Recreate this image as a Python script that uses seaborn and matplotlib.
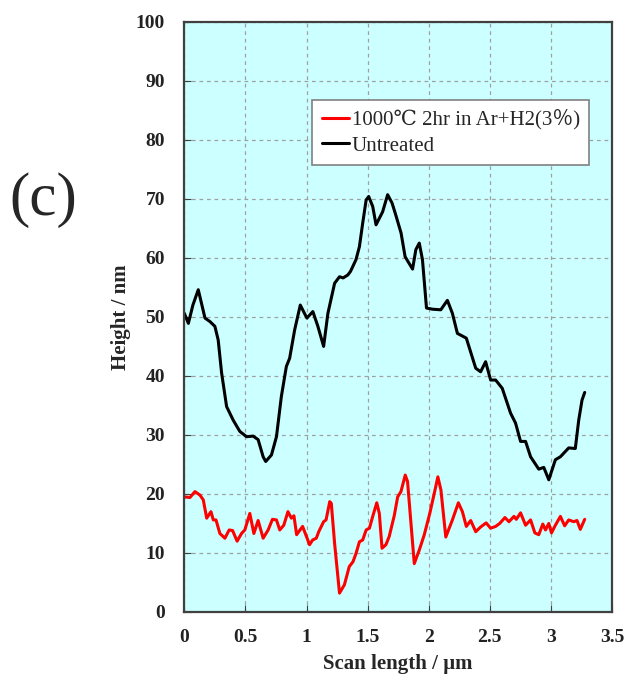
import numpy as np
import pandas as pd
import matplotlib
matplotlib.use('Agg')
import matplotlib.pyplot as plt
import seaborn as sns

# -------------------------------------------------------------
# Data (scan length in um, height in nm)
untreated_x = [0.0, 0.033, 0.07, 0.114, 0.169, 0.21, 0.25, 0.277, 0.305, 0.346,
               0.40, 0.454, 0.509, 0.563, 0.604, 0.645, 0.666, 0.713, 0.754, 0.794,
               0.835, 0.862, 0.903, 0.949, 1.003, 1.052, 1.093, 1.14, 1.175, 1.23,
               1.27, 1.30, 1.338, 1.36, 1.405, 1.433, 1.46, 1.488, 1.509, 1.542,
               1.569, 1.596, 1.623, 1.664, 1.70, 1.73, 1.774, 1.807, 1.83, 1.868,
               1.895, 1.923, 1.949, 1.982, 2.031, 2.099, 2.153, 2.194, 2.235, 2.308,
               2.385, 2.425, 2.466, 2.507, 2.548, 2.602, 2.67, 2.711, 2.752, 2.793,
               2.834, 2.901, 2.942, 2.983, 3.037, 3.078, 3.146, 3.2, 3.228, 3.255,
               3.277]
untreated_y = [50.6, 48.9, 52.0, 54.6, 49.8, 49.2, 48.4, 46.1, 40.5, 34.8,
               32.5, 30.6, 29.7, 29.8, 29.2, 26.3, 25.5, 26.6, 29.7, 36.5,
               41.6, 43.0, 47.8, 52.0, 49.8, 50.9, 48.4, 45.0, 50.6, 55.7,
               56.8, 56.6, 57.1, 57.7, 59.7, 61.9, 65.9, 69.8, 70.4, 68.7,
               65.6, 66.7, 67.8, 70.7, 69.3, 67.3, 64.2, 60.2, 59.4, 58.1,
               61.4, 62.5, 59.7, 51.5, 51.3, 51.2, 52.8, 50.6, 47.2, 46.4,
               41.3, 40.7, 42.4, 39.3, 39.3, 37.9, 33.7, 32.0, 28.9, 28.9,
               26.3, 24.2, 24.5, 22.4, 25.8, 26.3, 27.8, 27.7, 32.5, 35.9,
               37.2]

treated_x = [0.0, 0.046, 0.087, 0.128, 0.155, 0.183, 0.218, 0.237, 0.259, 0.291,
             0.332, 0.367, 0.395, 0.432, 0.468, 0.495, 0.536, 0.569, 0.604, 0.645,
             0.686, 0.721, 0.754, 0.781, 0.814, 0.848, 0.876, 0.897, 0.919, 0.968,
             1.025, 1.05, 1.08, 1.10, 1.14, 1.16, 1.19, 1.203, 1.23, 1.27,
             1.31, 1.35, 1.38, 1.405, 1.433, 1.46, 1.488, 1.515, 1.542, 1.575,
             1.596, 1.618, 1.65, 1.677, 1.719, 1.746, 1.773, 1.808, 1.827, 1.882,
             1.923, 1.964, 2.01, 2.05, 2.075, 2.10, 2.14, 2.194, 2.243, 2.276,
             2.308, 2.344, 2.385, 2.425, 2.47, 2.507, 2.548, 2.581, 2.624, 2.657,
             2.698, 2.717, 2.752, 2.793, 2.834, 2.869, 2.901, 2.934, 2.956, 2.983,
             3.005, 3.037, 3.078, 3.113, 3.146, 3.187, 3.214, 3.241, 3.277]
treated_y = [19.5, 19.4, 20.4, 19.8, 19.0, 15.9, 17.0, 15.6, 15.6, 13.3,
             12.5, 13.9, 13.8, 12.0, 13.3, 13.9, 16.7, 13.3, 15.5, 12.5,
             13.9, 15.7, 15.6, 13.9, 14.7, 17.0, 15.9, 16.3, 13.1, 14.5,
             11.4, 12.2, 12.5, 13.6, 15.3, 15.6, 18.7, 18.4, 11.6, 3.2,
             4.6, 7.7, 8.5, 9.9, 11.9, 12.2, 13.9, 14.2, 16.2, 18.5,
             16.7, 10.8, 11.4, 12.8, 16.4, 19.5, 20.4, 23.2, 22.1, 8.2,
             10.5, 13.1, 16.8, 20.5, 22.9, 20.7, 12.7, 15.6, 18.5, 17.0,
             14.5, 15.5, 13.6, 14.4, 15.1, 14.2, 14.5, 15.0, 16.0, 15.3,
             16.2, 15.7, 16.8, 14.7, 15.6, 13.4, 13.1, 14.9, 13.9, 15.0,
             13.4, 14.7, 16.2, 14.6, 15.6, 15.3, 15.5, 14.0, 15.7]

series_names = ['1000\u2103 2hr in Ar+H2(3\uff05)', 'Untreated']
x_ticks = [0, 0.5, 1, 1.5, 2, 2.5, 3, 3.5]
x_labels = ['0', '0.5', '1', '1.5', '2', '2.5', '3', '3.5']
y_ticks = list(range(0, 101, 10))

df = pd.concat([
    pd.DataFrame({'x': treated_x, 'y': treated_y, 'series': series_names[0]}),
    pd.DataFrame({'x': untreated_x, 'y': untreated_y, 'series': series_names[1]}),
])

# -------------------------------------------------------------
sns.set_style('ticks')
serif = ['Liberation Serif', 'DejaVu Serif', 'Noto Sans CJK JP']
plt.rcParams['font.family'] = serif

fig = plt.figure(figsize=(6.27, 6.8), dpi=100)
ax = fig.add_axes([0.294, 0.1, 0.682, 0.868])
ax.set_facecolor('#ccffff')

sns.lineplot(data=df, x='x', y='y', hue='series', sort=False,
             palette={series_names[0]: '#ff0000', series_names[1]: 'black'},
             linewidth=2.2, ax=ax, estimator=None)

ax.set_xlim(0, 3.5)
ax.set_ylim(0, 100)
ax.set_xticks(x_ticks)
ax.set_xticklabels(x_labels)
ax.set_yticks(y_ticks)
ax.grid(True, linestyle=(0, (3, 3)), color='#a0a0a0', linewidth=0.9)
ax.tick_params(direction='in', length=5, color='#404040', labelsize=14,
               labelcolor='#222222')
ax.tick_params(axis='x', pad=12)
ax.tick_params(axis='y', pad=14)
for lab in ax.get_xticklabels() + ax.get_yticklabels():
    lab.set_fontweight('bold')
for sp in ax.spines.values():
    sp.set_visible(True)
    sp.set_color('#404040')
    sp.set_linewidth(1.6)

ax.set_xlabel('Scan length / \u00b5m', fontsize=15, fontweight='bold', labelpad=6)
ax.set_ylabel('Height / nm', fontsize=15, fontweight='bold', labelpad=3)

leg = ax.legend(loc='upper left', bbox_to_anchor=(0.275, 0.885), fontsize=15,
                frameon=True, fancybox=False, framealpha=1, edgecolor='#808080',
                handlelength=1.3, handletextpad=0.15, borderpad=0.45,
                labelspacing=0.3, shadow=False)
leg.get_frame().set_linewidth(1.2)

fig.text(0.069, 0.706, '(c)', fontsize=44, ha='center', va='center')

fig.savefig('out.png', dpi=100)
